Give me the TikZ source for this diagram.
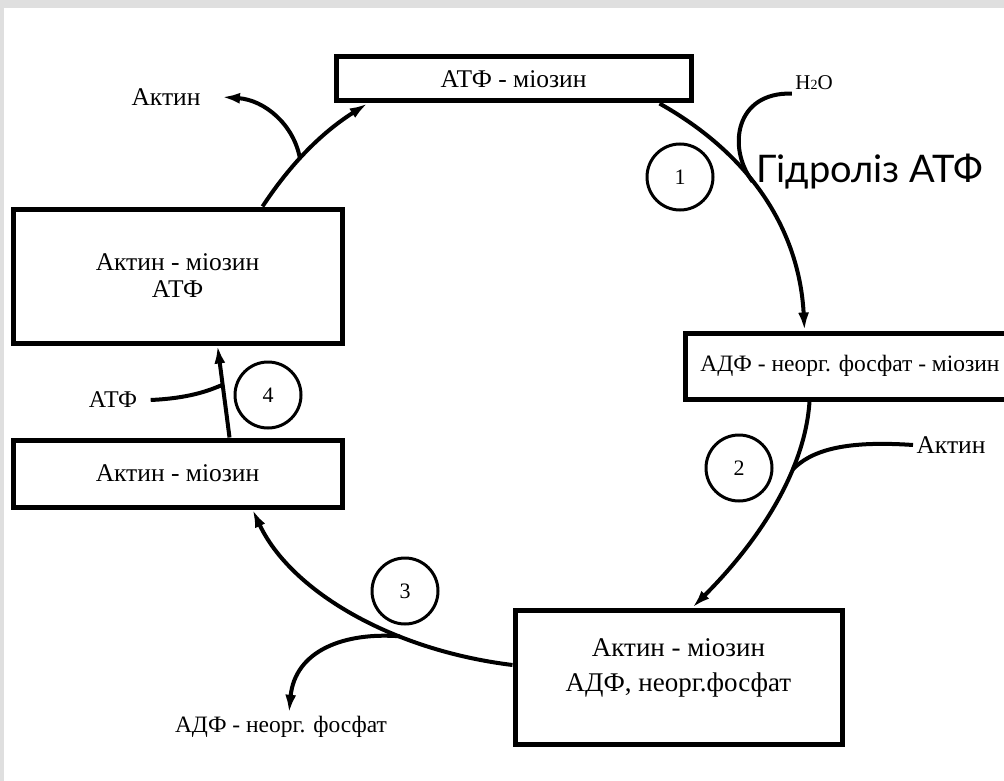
\documentclass[tikz,border=0pt]{standalone}
\usepackage{fontspec}
\setmainfont{Liberation Serif}
\newfontfamily\hydrofont{Lato}
\usetikzlibrary{arrows.meta,calc}

\tikzset{
  stage/.style={draw,line width=5pt,inner sep=0pt,align=center,font=\fontsize{25.5}{27}\selectfont},
  substance/.style={font=\fontsize{25.5}{27}\selectfont},
  stepnum/.style={draw,circle,line width=3pt,minimum size=66pt,inner sep=0pt,font=\fontsize{22}{22}\selectfont},
  flow/.style={line width=4pt,-{Latex[length=18pt,width=11pt]}},
  branch/.style={line width=4pt},
}

\begin{document}
\begin{tikzpicture}[x=1pt,y=-1pt]
\useasboundingbox (0,0) rectangle (1004,781);
\fill [gray!25] (0,0) rectangle (1004,781);
\fill [white] (4,8) rectangle (1004,781);

% stages of the cycle
\node (atpmyo) [stage,minimum width=355pt,minimum height=44pt] at (513.5,79) {АТФ - міозин};
\node (adpmyo) [stage,minimum width=330pt,minimum height=66pt,font=\fontsize{23.5}{26}\selectfont] at (850,366) {АДФ - неорг. фосфат - міозин};
\node (actadp) [stage,minimum width=327pt,text height=81pt,text depth=53pt,font=\fontsize{27}{35}\selectfont] at (678.5,677) {Актин - міозин\\АДФ, неорг.фосфат};
\node (actmyo) [stage,minimum width=329pt,minimum height=67pt] at (177.5,473.5) {Актин - міозин};
\node (actmyoatp) [stage,minimum width=329pt,minimum height=134pt] at (177.5,276) {Актин - міозин\\АТФ};

% what goes in and out
\node (actin1) [substance] at (166,97) {Актин};
\node (water) [substance,font=\fontsize{21}{22}\selectfont] at (814,83) {H{\fontsize{14}{14}\selectfont 2}O};
\node (hydro) [font=\hydrofont\fontsize{38}{40}\selectfont] at (870,172) {Гідроліз АТФ};
\node (actin2) [substance] at (951,445) {Актин};
\node (atp) [substance,font=\fontsize{24}{26}\selectfont] at (113,400) {АТФ};
\node (adppi) [substance,font=\fontsize{23.5}{26}\selectfont] at (281,727) {АДФ - неорг. фосфат};

% step numbers
\node (s1) [stepnum] at (680,177) {1};
\node (s2) [stepnum] at (739,468) {2};
\node (s3) [stepnum] at (405,591) {3};
\node (s4) [stepnum] at (268,395) {4};

% the cycle
\draw [flow] ($(atpmyo.south east)+(-34,0)$) .. controls (760,160) and (800,240) .. ($(adpmyo.north west)+(122,0)$) coordinate [pos=0.4] (j1);
\draw [flow] ($(adpmyo.south west)+(127,0)$) .. controls (805,470) and (760,540) .. ($(actadp.north west)+(180,0)$) coordinate [pos=0.33] (j2);
\draw [flow] ($(actadp.west)+(0,-12)$) .. controls (390,650) and (290,590) .. ($(actmyo.south west)+(242,0)$) coordinate [pos=0.33] (j3);
\draw [flow] ($(actmyo.north west)+(219,0)$) .. controls (226,410) and (222,380) .. ($(actmyoatp.south west)+(207,0)$) coordinate [pos=0.6] (j4);
\draw [flow] ($(actmyoatp.north west)+(252,0)$) .. controls (280,180) and (310,140) .. ($(atpmyo.south west)+(34,0)$) coordinate [pos=0.5] (j5);

% side branches
\draw [branch] (water.south west) .. controls (735,92) and (727,148) .. (j1);
\draw [branch] (actin2.west) .. controls (840,440) and (810,452) .. (j2);
\draw [flow] (j3) .. controls (345,632) and (295,650) .. ($(adppi.north)+(8,0)$);
\draw [branch] ([xshift=10pt]atp.east) .. controls (195,398) and (214,388) .. (j4);
\draw [flow] (j5) .. controls (294,125) and (265,100) .. ($(actin1.east)+(18,0)$);
\end{tikzpicture}
\end{document}
